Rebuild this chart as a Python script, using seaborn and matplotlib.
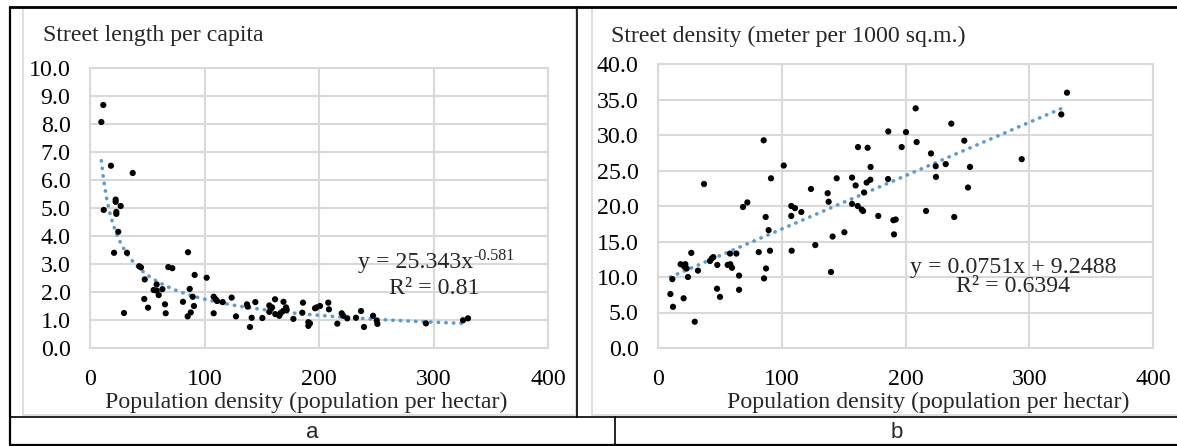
import numpy as np
import matplotlib
matplotlib.use("Agg")
import matplotlib.pyplot as plt
from matplotlib.lines import Line2D
import seaborn as sns

# --- дані: панель a (довжина вулиць на душу населення) ---
a_x = [9.9, 11.6, 18.3, 37.3, 12.0, 22.4, 22.4, 26.8, 23.0, 23.0,
       24.7, 21.0, 32.3, 29.7, 43.0, 44.5, 47.8, 47.4, 50.7, 58.2,
       55.6, 58.2, 60.0, 63.2, 68.4, 71.9, 65.5, 66.1, 85.6, 91.4,
       87.1, 89.7, 81.2, 90.8, 88.0, 85.3, 101.9, 108.0, 109.8, 110.9,
       108.0, 115.9, 123.7, 127.5, 137.1, 137.7, 144.4, 141.2, 139.7, 150.5,
       156.6, 157.8, 159.0, 161.6, 156.6, 161.8, 165.3, 166.5, 169.0, 171.2,
       171.8, 168.6, 177.6, 186.0, 185.4, 190.7, 192.1, 190.7, 196.5, 197.9,
       200.9, 208.1, 208.7, 216.0, 219.8, 221.2, 224.7, 232.3, 236.7, 239.3,
       247.2, 250.4, 251.0, 293.4, 325.8, 330.1]
a_y = [8.07, 8.68, 6.51, 6.25, 4.93, 5.30, 5.22, 5.07, 4.86, 4.79,
       4.15, 3.40, 3.40, 1.25, 2.92, 2.88, 2.45, 1.75, 1.44, 2.27,
       2.07, 2.05, 1.89, 2.10, 2.89, 2.85, 1.56, 1.24, 3.42, 2.61,
       2.11, 1.83, 1.65, 1.50, 1.27, 1.13, 2.51, 1.83, 1.74, 1.68,
       1.24, 1.64, 1.80, 1.13, 1.56, 1.48, 1.64, 1.08, 0.75, 1.07,
       1.52, 1.42, 1.45, 1.74, 1.29, 1.21, 1.15, 1.24, 1.65, 1.45,
       1.36, 1.32, 1.04, 1.62, 1.26, 0.92, 0.88, 0.79, 1.42, 1.45,
       1.50, 1.62, 1.38, 0.87, 1.24, 1.15, 1.06, 1.08, 1.32, 0.75,
       1.15, 0.98, 0.86, 0.88, 0.99, 1.06]
a_coef, a_pow = 25.343, -0.581   # y = 25.343x^-0.581

# --- дані: панель b (щільність вулиць) ---
b_x = [37.2, 85.4, 101.6, 91.3, 68.7, 72.2, 87.0, 123.6, 107.7, 110.7,
       115.8, 137.1, 137.9, 144.4, 156.8, 159.7, 161.6, 169.4, 171.8, 168.6,
       171.6, 166.5, 156.8, 161.4, 164.6, 165.7, 186.1, 185.9, 178.0, 107.7,
       190.2, 192.1, 190.7, 150.6, 141.1, 127.1, 108.0, 139.8, 90.5, 89.4,
       87.3, 85.7, 81.4, 65.5, 65.5, 63.3, 58.2, 58.4, 56.3, 59.8,
       47.9, 43.4, 44.7, 42.0, 47.7, 50.1, 32.3, 26.9, 29.7, 18.3,
       22.1, 23.2, 24.2, 21.3, 11.6, 10.0, 12.1, 20.7, 330.5, 325.9,
       208.2, 237.0, 200.4, 196.9, 209.0, 247.5, 220.6, 224.4, 232.5, 252.1,
       224.6, 293.9, 250.5, 216.6, 239.4]
b_y = [23.1, 29.25, 25.7, 23.9, 19.86, 20.5, 18.45, 22.4, 20.0, 19.7,
       19.15, 21.8, 20.6, 23.9, 24.0, 22.9, 28.3, 28.2, 25.5, 23.3,
       23.7, 21.9, 20.3, 20.0, 19.5, 19.3, 30.5, 23.8, 18.6, 18.6,
       18.0, 18.1, 16.0, 16.3, 15.7, 14.5, 13.7, 10.7, 13.7, 16.6,
       11.2, 9.8, 13.5, 10.2, 8.2, 13.3, 13.3, 11.8, 11.7, 11.3,
       11.7, 12.6, 12.8, 12.25, 8.35, 7.2, 10.9, 13.4, 3.7, 11.8,
       11.8, 11.2, 10.0, 11.45, 9.7, 7.6, 5.8, 7.0, 35.96, 32.9,
       33.75, 31.6, 30.4, 28.3, 29.0, 29.2, 27.4, 25.6, 25.9, 25.5,
       24.1, 26.6, 22.6, 19.3, 18.45]
b_slope, b_icpt = 0.0751, 9.2488  # y = 0.0751x + 9.2488

sns.set_style("white")
plt.rcParams["font.family"] = ["Liberation Serif", "DejaVu Serif"]

FS = 17.2
GRID = "#d9d9d9"
TREND = "#5b9bd5"
DOTS = (0, (0.1, 2.0))

fig = plt.figure(figsize=(11.77, 4.46), dpi=100)
W, H = 1177, 446

def fx(px):
    return px / W

def fy(py):
    return 1 - py / H

ax_a = fig.add_axes([fx(90), fy(348), fx(548 - 90), (348 - 68) / H])
ax_b = fig.add_axes([fx(658), fy(348), fx(1153 - 658), (348 - 64) / H])

def style_axis(ax, ymax, ystep):
    yt = np.arange(0, ymax + 0.01, ystep)
    ax.set_xlim(0, 400)
    ax.set_ylim(0, ymax)
    ax.set_xticks(np.arange(0, 401, 100))
    ax.set_yticks(yt)
    ax.set_yticklabels(["%.1f" % v for v in yt])
    ax.grid(True, color=GRID, linewidth=1.5)
    ax.set_axisbelow(True)
    for s in ax.spines.values():
        s.set_color(GRID)
        s.set_linewidth(1.5)
    ax.tick_params(axis="both", length=0, labelsize=FS, colors="black")
    ax.tick_params(axis="y", pad=14)
    ax.tick_params(axis="x", pad=15)
    ax.set_xlabel("")
    ax.set_ylabel("")

# панель a
sns.scatterplot(x=a_x, y=a_y, ax=ax_a, color="black", s=20, edgecolor="none", zorder=3)
xa = np.linspace(min(a_x), max(a_x), 200)
ax_a.plot(xa, a_coef * xa ** a_pow, color=TREND, linestyle=DOTS,
          linewidth=2.6, dash_capstyle="round", zorder=2)
style_axis(ax_a, 10, 1)
ax_a.text(334.5, 3.07, "y = 25.343x", ha="right", va="center", fontsize=FS)
ax_a.text(334.5, 3.30, "-0.581", ha="left", va="center", fontsize=11.5)
ax_a.text(301, 2.14, "R² = 0.81", ha="center", va="center", fontsize=FS)

# панель b
sns.scatterplot(x=b_x, y=b_y, ax=ax_b, color="black", s=20, edgecolor="none", zorder=3)
xb = np.array([min(b_x), max(b_x)])
ax_b.plot(xb, b_slope * xb + b_icpt, color=TREND, linestyle=DOTS,
          linewidth=2.6, dash_capstyle="round", zorder=2)
style_axis(ax_b, 40, 5)
ax_b.text(287, 11.3, "y = 0.0751x + 9.2488", ha="center", va="center", fontsize=FS)
ax_b.text(287, 8.6, "R² = 0.6394", ha="center", va="center", fontsize=FS)

# заголовки та підписи осей
fig.text(fx(43), fy(36), "Street length per capita", ha="left", va="center", fontsize=FS)
fig.text(fx(611), fy(36), "Street density (meter per 1000 sq.m.)", ha="left", va="center", fontsize=FS)
fig.text(fx(306), fy(402), "Population density (population per hectar)", ha="center", va="center", fontsize=FS)
fig.text(fx(928), fy(402), "Population density (population per hectar)", ha="center", va="center", fontsize=FS)
fig.text(fx(312), fy(433), "a", ha="center", va="center", fontsize=16, family="Liberation Sans")
fig.text(fx(897), fy(433), "b", ha="center", va="center", fontsize=16, family="Liberation Sans")

# рамки діаграм (світло-сірі) і таблиця (чорні лінії)
def fline(x0, y0, x1, y1, color, lw):
    fig.add_artist(Line2D([fx(x0), fx(x1)], [fy(y0), fy(y1)], color=color, linewidth=lw))

for x0, x1 in [(23, 576), (592, 1177)]:
    fline(x0, 9, x0, 415, GRID, 1.2)
    fline(x0, 415, x1, 415, GRID, 1.2)
fline(576, 9, 576, 415, GRID, 1.2)

fline(10, 7, 1177, 7, "black", 2.0)
fline(10, 7, 10, 445, "black", 1.6)
fline(577, 7, 577, 417, "black", 1.2)
fline(10, 417, 1177, 417, "black", 1.2)
fline(615, 417, 615, 445, "black", 1.2)
fline(10, 444.5, 1177, 444.5, "black", 1.6)

fig.savefig("out.png", dpi=100)
